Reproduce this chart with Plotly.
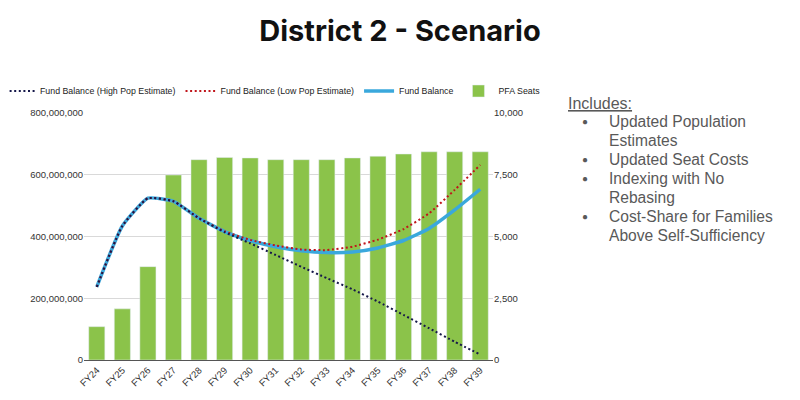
import plotly.graph_objects as go

years = ["FY24", "FY25", "FY26", "FY27", "FY28", "FY29", "FY30", "FY31",
         "FY32", "FY33", "FY34", "FY35", "FY36", "FY37", "FY38", "FY39"]

pfa_seats = [1350, 2070, 3780, 7490, 8110, 8200, 8180, 8110,
             8110, 8110, 8180, 8250, 8340, 8430, 8430, 8430]

fund_balance = [237e6, 434e6, 524e6, 514e6, 459e6, 416e6, 387e6, 367e6,
                354e6, 348e6, 350e6, 363e6, 387e6, 426e6, 486e6, 553e6]

fund_low_pop = [237e6, 434e6, 524e6, 514e6, 459e6, 417e6, 389e6, 371e6,
                358e6, 356e6, 367e6, 390e6, 424e6, 475e6, 551e6, 632e6]

fund_high_pop = [237e6, 434e6, 524e6, 514e6, 459e6, 414e6, 378e6, 340e6,
                 302e6, 265e6, 229e6, 189e6, 146e6, 103e6, 59e6, 18e6]

notes_title = "Includes:"
notes = [["Updated Population", "Estimates"],
         ["Updated Seat Costs"],
         ["Indexing with No", "Rebasing"],
         ["Cost-Share for Families", "Above Self-Sufficiency"]]

GREEN = "#8bc34a"
BLUE = "#3aa8dc"
RED = "#c0151b"
NAVY = "#16184a"
TEXT = "#595959"

# the page puts the figure 8px in from the top-left corner
OFF = 8
fig_w, fig_h = 800 - OFF, 400 - OFF

# plot area in screen pixels
left_px, right_px = 84, 493
top_px, bot_px = 113, 360
w = right_px - left_px
h = bot_px - top_px

def py(px):
    return (bot_px - px) / h

def pxx(px):
    return (px - left_px) / w

fig = go.Figure()
# bars on the primary axis (right side) so the lines on the overlay stay on top
fig.add_trace(go.Bar(x=years, y=pfa_seats, name="PFA Seats", marker_color=GREEN,
                     yaxis="y", legendrank=4))
fig.add_trace(go.Scatter(x=years, y=fund_balance, name="Fund Balance", mode="lines",
                         yaxis="y2",
                         line=dict(color=BLUE, width=3.5, shape="spline", smoothing=0.45),
                         legendrank=3))
fig.add_trace(go.Scatter(x=years, y=fund_low_pop, name="Fund Balance (Low Pop Estimate)",
                         mode="lines", yaxis="y2",
                         line=dict(color=RED, width=2, dash="2px,2.6px",
                                   shape="spline", smoothing=0.45),
                         legendrank=2))
fig.add_trace(go.Scatter(x=years, y=fund_high_pop, name="Fund Balance (High Pop Estimate)",
                         mode="lines", yaxis="y2",
                         line=dict(color=NAVY, width=2, dash="2px,2.6px",
                                   shape="spline", smoothing=0.45),
                         legendrank=1))

annots = [dict(text="<u>" + notes_title + "</u>", x=pxx(566), y=py(103.5), xref="paper",
               yref="paper", xanchor="left", yanchor="middle", showarrow=False,
               font=dict(size=16, color=TEXT, family="Liberation Sans"))]
line_y = 121.7
for item in notes:
    annots.append(dict(text="●", x=pxx(580), y=py(line_y), xref="paper", yref="paper",
                       xanchor="left", yanchor="middle", showarrow=False,
                       font=dict(size=10, color=TEXT, family="Liberation Sans")))
    for part in item:
        annots.append(dict(text=part, x=pxx(607), y=py(line_y), xref="paper", yref="paper",
                           xanchor="left", yanchor="middle", showarrow=False,
                           font=dict(size=15.6, color=TEXT, family="Liberation Sans")))
        line_y += 18.9

fig.update_layout(
    width=fig_w, height=fig_h,
    margin=dict(l=left_px - OFF, r=fig_w - (right_px - OFF), t=top_px - OFF,
                b=fig_h - (bot_px - OFF), autoexpand=False),
    paper_bgcolor="white", plot_bgcolor="white",
    font=dict(family="Liberation Sans", size=10, color="#333333"),
    title=dict(text="<b>District 2 - Scenario</b>", x=(400 - OFF) / fig_w, xanchor="center",
               xref="container", y=1 - (31 - OFF) / fig_h, yanchor="middle",
               font=dict(family="Inter", size=29, color="#111111")),
    bargap=0.37,
    showlegend=True,
    # anchored right of the plot area so the legend can use the full width in one row
    legend=dict(orientation="h", x=pxx(546), y=py(91), xanchor="right", yanchor="middle",
                font=dict(size=8.8, color="#222222"), itemwidth=30,
                traceorder="normal", bgcolor="rgba(0,0,0,0)"),
    xaxis=dict(tickangle=-45, showgrid=False, showline=True, linecolor="#555555",
               linewidth=1, ticks="", tickfont=dict(size=9.5, color="#333333")),
    yaxis=dict(range=[0, 10000], tickvals=[0, 2500, 5000, 7500, 10000],
               tickformat=",d", side="right", showgrid=True, gridcolor="#d9d9d9",
               zeroline=False, tickfont=dict(size=9.5, color="#333333")),
    yaxis2=dict(range=[0, 800e6], tickvals=[0, 200e6, 400e6, 600e6, 800e6],
                tickformat=",d", overlaying="y", side="left", showgrid=False,
                zeroline=False, tickfont=dict(size=9.5, color="#333333")),
    annotations=annots,
)

fig.write_html("out.html")
